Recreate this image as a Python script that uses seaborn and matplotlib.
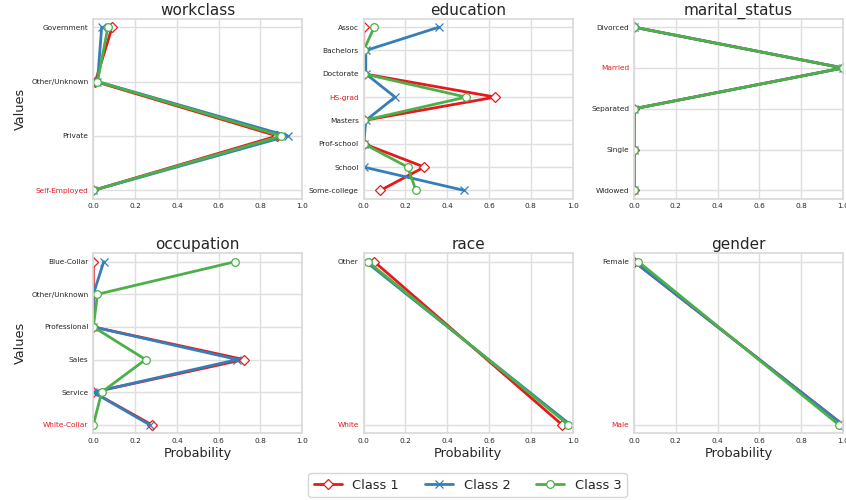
import pandas as pd
import seaborn as sns
import matplotlib.pyplot as plt

# Class labels and colours
classes = ["Class 1", "Class 2", "Class 3"]
class_colors = ["#e41a1c", "#377eb8", "#4daf4a"]
class_markers = ["D", "x", "o"]

# Per-feature categories and probabilities per class
workclass_values = ["Government", "Other/Unknown", "Private", "Self-Employed"]
workclass_class1 = [0.09, 0.01, 0.88, 0.00]
workclass_class2 = [0.04, 0.02, 0.93, 0.00]
workclass_class3 = [0.07, 0.02, 0.90, 0.00]

education_values = ["Assoc", "Bachelors", "Doctorate", "HS-grad", "Masters",
                    "Prof-school", "School", "Some-college"]
education_class1 = [0.00, 0.00, 0.00, 0.63, 0.00, 0.00, 0.29, 0.08]
education_class2 = [0.36, 0.01, 0.01, 0.15, 0.01, 0.00, 0.00, 0.48]
education_class3 = [0.05, 0.00, 0.00, 0.49, 0.00, 0.00, 0.21, 0.25]

marital_values = ["Divorced", "Married", "Separated", "Single", "Widowed"]
marital_class1 = [0.00, 1.00, 0.00, 0.00, 0.00]
marital_class2 = [0.00, 1.00, 0.00, 0.00, 0.00]
marital_class3 = [0.00, 1.00, 0.00, 0.00, 0.00]

occupation_values = ["Blue-Collar", "Other/Unknown", "Professional", "Sales",
                     "Service", "White-Collar"]
occupation_class1 = [0.00, 0.00, 0.00, 0.72, 0.00, 0.28]
occupation_class2 = [0.05, 0.00, 0.00, 0.69, 0.00, 0.27]
occupation_class3 = [0.68, 0.02, 0.00, 0.25, 0.04, 0.00]

race_values = ["Other", "White"]
race_class1 = [0.05, 0.95]
race_class2 = [0.01, 0.99]
race_class3 = [0.02, 0.98]

gender_values = ["Female", "Male"]
gender_class1 = [0.00, 1.00]
gender_class2 = [0.00, 1.00]
gender_class3 = [0.02, 0.98]

# Tick label shown in red for each feature
highlight = {"workclass": "Self-Employed", "education": "HS-grad",
             "marital_status": "Married", "occupation": "White-Collar",
             "race": "White", "gender": "Male"}

features = [
    ("workclass", workclass_values, [workclass_class1, workclass_class2, workclass_class3]),
    ("education", education_values, [education_class1, education_class2, education_class3]),
    ("marital_status", marital_values, [marital_class1, marital_class2, marital_class3]),
    ("occupation", occupation_values, [occupation_class1, occupation_class2, occupation_class3]),
    ("race", race_values, [race_class1, race_class2, race_class3]),
    ("gender", gender_values, [gender_class1, gender_class2, gender_class3]),
]

sns.set_theme(style="whitegrid", rc={"grid.color": "0.87", "axes.edgecolor": "0.85"})

fig, axes = plt.subplots(2, 3, figsize=(8.46, 5.0), dpi=100)
fig.subplots_adjust(left=0.1103, right=0.9965, top=0.962, bottom=0.134,
                    wspace=0.294, hspace=0.306)

handles = []
for k, (ax, (name, values, probs)) in enumerate(zip(axes.flat, features)):
    for cls, color, marker, p in zip(classes, class_colors, class_markers, probs):
        df = pd.DataFrame({"Value": range(len(values)), "Probability": p})
        sns.lineplot(data=df, x="Probability", y="Value", orient="y", sort=False,
                     errorbar=None, color=color, marker=marker, markersize=5.5,
                     linewidth=2.0, label=cls, legend=False, ax=ax)
        line = ax.lines[-1]
        line.set_markerfacecolor("white")
        line.set_markeredgecolor(color)
        line.set_markeredgewidth(0.9)
        if k == 0:
            handles.append(line)

    ax.set_yticks(range(len(values)))
    ax.set_yticklabels(values, fontsize=5.3)
    for t in ax.get_yticklabels():
        if t.get_text() == highlight[name]:
            t.set_color("#e41a1c")
    pad = 0.05 * (len(values) - 1)
    ax.set_ylim(len(values) - 1 + pad, -pad)
    ax.set_xlim(0, 1)
    ax.tick_params(axis="x", labelsize=5.3, length=0, pad=3.5)
    ax.tick_params(axis="y", length=0, pad=3.5)
    ax.set_title(name, fontsize=11, pad=3)
    ax.set_xlabel("")
    ax.set_ylabel("")

for ax in axes[:, 0]:
    ax.set_ylabel("Values", fontsize=9.3, labelpad=3)
for ax in axes[1, :]:
    ax.set_xlabel("Probability", fontsize=9.3, labelpad=2)

fig.legend(handles, classes, loc="lower center", ncol=3, fontsize=9.4,
           bbox_to_anchor=(0.5526, 0.0), borderaxespad=0.25, frameon=True,
           handlelength=2.15, columnspacing=2.0)

fig.savefig("out.png", dpi=100)
